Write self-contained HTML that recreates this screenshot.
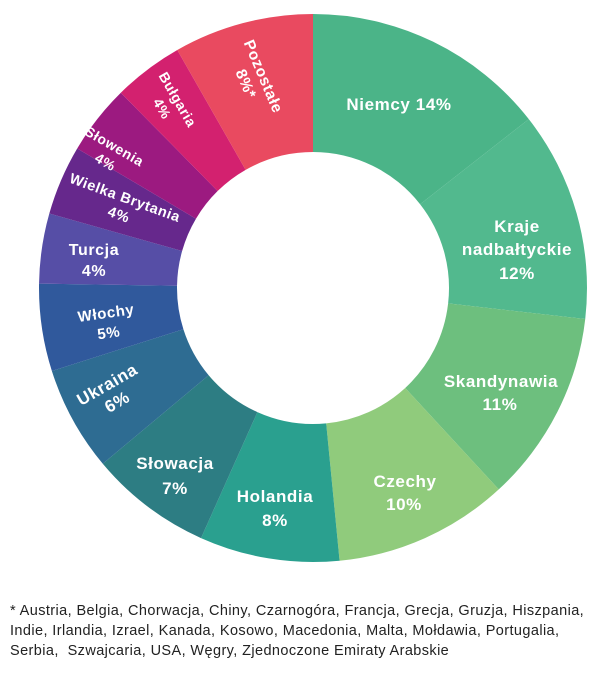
<!DOCTYPE html>
<html><head><meta charset="utf-8"><style>
body{margin:0;background:#fff;width:600px;height:686px;overflow:hidden;font-family:"Liberation Sans",sans-serif}
.note{position:absolute;left:10px;top:601px;font-size:14.5px;letter-spacing:0.4px;line-height:20px;color:#222}
</style></head><body>
<svg width="600" height="600" style="position:absolute;left:0;top:0" id="s">
<g id="seg"></g>
<g fill="#fff" font-weight="bold" font-size="17" letter-spacing="0.6" text-anchor="middle" font-family="Liberation Sans,sans-serif">
<text x="399" y="110">Niemcy 14%</text>
<text x="517" y="232">Kraje</text><text x="517" y="255">nadbałtyckie</text><text x="517" y="279">12%</text>
<text x="501" y="387">Skandynawia</text><text x="500" y="410">11%</text>
<text x="405" y="487">Czechy</text><text x="404" y="510">10%</text>
<text x="275" y="502">Holandia</text><text x="275" y="526">8%</text>
<text x="175" y="469">Słowacja</text><text x="175" y="494">7%</text>
<g transform="translate(112,393) rotate(-30)"><text y="-4">Ukraina</text><text y="16">6%</text></g>
<g transform="translate(107,320) rotate(-8)" font-size="15"><text y="-2">Włochy</text><text y="18">5%</text></g>
<text x="94" y="255" font-size="16">Turcja</text><text x="94" y="276" font-size="16">4%</text>
<g transform="translate(122,206) rotate(20)" font-size="14.5"><text y="-4">Wielka Brytania</text><text y="14">4%</text></g>
<g transform="translate(110,154) rotate(30)" font-size="14"><text y="-4">Słowenia</text><text y="14">4%</text></g>
<g transform="translate(170,104) rotate(60)" font-size="14"><text y="-4">Bułgaria</text><text y="14">4%</text></g>
<g transform="translate(255,80) rotate(67)" font-size="15.5"><text y="-4">Pozostałe</text><text y="15">8%*</text></g>
</g>
</svg>
<div class="note">* Austria, Belgia, Chorwacja, Chiny, Czarnogóra, Francja, Grecja, Gruzja, Hiszpania,<br>Indie, Irlandia, Izrael, Kanada, Kosowo, Macedonia, Malta, Mołdawia, Portugalia,<br>Serbia,&nbsp; Szwajcaria, USA, Węgry, Zjednoczone Emiraty Arabskie</div>
<script>
var d=[[14,"#4bb488"],[12,"#52b98e"],[11,"#6dbf7e"],[10,"#90cb7c"],[8,"#2aa08f"],[7,"#2d7d83"],[6,"#2e6c92"],[5,"#30599c"],[4,"#564ea6"],[4,"#66288c"],[4,"#9c1a80"],[4,"#d3216f"],[8,"#e94a60"]];
var cx=313,cy=288,R=274,r=136,a=0,g=document.getElementById("seg"),ns="http://www.w3.org/2000/svg";
function p(rad,an){return [cx+rad*Math.sin(an),cy-rad*Math.cos(an)];}
d.forEach(function(s){var b=a+s[0]/97*2*Math.PI,l=(b-a)>Math.PI?1:0;
var p1=p(R,a),p2=p(R,b),p3=p(r,b),p4=p(r,a);
var e=document.createElementNS(ns,"path");
e.setAttribute("d","M"+p1+"A"+R+","+R+" 0 "+l+" 1 "+p2+"L"+p3+"A"+r+","+r+" 0 "+l+" 0 "+p4+"Z");
e.setAttribute("fill",s[1]);g.appendChild(e);a=b;});
</script>
</body></html>
